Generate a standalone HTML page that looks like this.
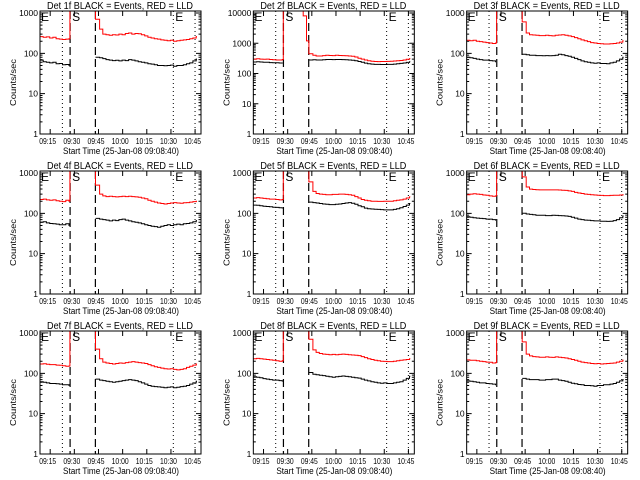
<!DOCTYPE html>
<html><head><meta charset="utf-8"><style>
html,body{margin:0;padding:0;background:#fff;}
svg{display:block;}
text{font-family:"Liberation Sans",sans-serif;fill:#000;}
</style></head><body>
<svg id="chart" width="640" height="480" viewBox="0 0 640 480" xmlns="http://www.w3.org/2000/svg">
<rect x="0" y="0" width="640" height="480" fill="#fff"/>
</svg>
<script>
// time in minutes after 09:08:40
const detectorNames = ["1f","2f","3f","4f","5f","6f","7f","8f","9f"];
const decades = [3,4,3,3,3,3,3,3,3];
const preTimes = [0,2,4,6,8,10,12,14,16,18];
const midTimes = [18.6,21,23,25,27,29,31,33];
const postTimes = [34.5,37,39,41,43,45,47,49,51,53,55,57,59,61,63,65,67,69,71,73,75,77,79,81,83,85,87,89,91,93,95,97];
const xTickLabels = ["09:15","09:30","09:45","10:00","10:15","10:30","10:45"];
const xTickTimes = [6.33,21.33,36.33,51.33,66.33,81.33,96.33];
const dottedTimes = [13.9,82.8,96.3];
const dashedTimes = [18.7,34.4];
const redPre = [
[260,250,255,240,250,230,225,220,225,230],
[300,305,300,295,300,290,285,280,280,290],
[210,205,210,200,195,190,185,180,175,180],
[220,225,215,210,215,205,200,195,210,200],
[240,245,240,235,230,225,225,220,215,220],
[290,300,305,300,295,285,280,270,265,270],
[170,172,168,165,165,160,158,155,150,152],
[230,235,230,225,220,215,210,205,200,205],
[215,210,212,205,200,195,190,188,180,185]];
const redMid = [
[50000,50000,50000,50000,50000,50000,50000,50000],
[30000,30000,30000,30000,30000,30000,8000,1200],
[50000,50000,50000,50000,50000,50000,50000,50000],
[50000,50000,50000,50000,50000,50000,50000,50000],
[50000,50000,50000,50000,50000,50000,50000,50000],
[50000,50000,50000,50000,50000,50000,50000,50000],
[50000,50000,50000,50000,50000,50000,50000,50000],
[50000,50000,50000,50000,50000,50000,50000,50000],
[50000,50000,50000,50000,50000,50000,50000,50000]];
const redPost = [
[700,400,300,290,280,290,285,300,290,310,320,300,310,305,290,270,250,240,230,225,215,210,205,210,200,205,210,215,220,230,240,260],
[450,400,380,380,390,400,395,390,400,395,390,385,380,370,350,320,300,280,265,255,250,248,250,250,252,255,258,262,270,280,295,310],
[600,320,290,285,280,275,275,280,275,270,280,285,290,280,270,260,245,230,215,205,195,185,180,175,172,170,170,172,175,180,190,205],
[500,300,270,260,265,260,255,260,265,260,265,260,255,250,240,230,210,200,190,180,175,170,175,180,185,180,178,182,185,190,195,200],
[600,350,310,300,295,290,290,295,295,300,300,295,290,280,260,240,220,210,205,200,200,198,198,200,200,200,205,210,215,225,240,255],
[800,450,400,390,385,380,380,380,382,380,380,378,375,370,360,350,330,320,310,300,295,290,285,280,278,275,275,278,280,282,285,290],
[400,230,190,180,175,170,175,180,178,185,190,195,190,185,180,175,165,155,145,140,135,130,128,130,125,122,125,130,140,150,160,170],
[700,380,330,310,300,295,290,295,290,295,300,295,290,285,280,275,260,245,230,220,210,205,200,198,195,195,200,205,210,215,220,230],
[600,300,270,260,255,250,250,255,250,248,255,250,245,240,230,220,210,200,190,185,180,175,172,175,170,172,175,178,180,190,200,210]];
const blackPre = [
[68,62,60,58,60,55,56,52,53,50],
[240,245,240,235,235,230,228,225,222,220],
[80,78,75,72,70,68,68,66,65,62],
[60,62,58,56,55,54,52,52,55,50],
[160,158,155,150,148,145,142,140,138,135],
[82,80,78,76,75,74,72,72,70,68],
[62,60,58,56,56,55,54,52,52,50],
[82,80,78,74,72,70,68,68,66,64],
[65,64,62,60,58,58,56,55,54,52]];
const blackPost = [
[80,78,74,70,68,66,67,65,68,66,70,68,65,62,60,58,55,54,52,50,50,49,50,51,48,50,50,52,55,58,65,72],
[280,285,280,280,285,290,290,288,290,290,288,285,280,275,265,250,235,220,210,205,200,200,198,198,200,200,205,210,215,222,232,245],
[95,92,90,90,88,88,87,88,87,88,90,95,92,88,85,80,75,70,65,62,60,58,57,58,56,56,55,58,60,65,72,80],
[75,72,70,68,65,68,66,70,72,68,65,62,60,58,55,52,50,48,47,45,48,50,52,50,52,54,52,55,56,58,62,66],
[190,185,180,175,170,168,165,165,168,170,175,180,185,178,168,155,145,135,130,128,126,125,124,122,122,122,125,130,138,148,160,175],
[100,96,94,92,90,90,90,88,88,90,89,88,87,86,84,80,76,72,70,68,67,66,65,65,64,64,63,64,66,70,78,86],
[72,68,66,64,62,60,62,64,66,68,70,68,66,62,58,54,50,48,47,46,45,44,45,46,44,45,47,48,50,54,58,64],
[105,95,92,90,88,85,82,80,82,84,86,84,82,80,78,76,72,68,65,62,60,58,57,58,56,56,58,60,62,68,75,85],
[75,72,70,70,70,68,68,70,70,72,72,68,66,64,60,57,55,53,52,50,50,49,48,50,50,52,52,54,56,60,65,70]];

const NS = "http://www.w3.org/2000/svg";
const svg = document.getElementById("chart");
const T0 = 0, T1 = 100, PW = 161, PH = 123;
function mk(tag, attrs, parent){
  const e = document.createElementNS(NS, tag);
  for (const k in attrs) e.setAttribute(k, attrs[k]);
  parent.appendChild(e);
  return e;
}
function stepPath(times, vals, xs, ys, tEnd){
  let d = "";
  for (let i=0;i<times.length;i++){
    const x = xs(times[i]), y = ys(vals[i]);
    const xn = xs(i<times.length-1 ? times[i+1] : tEnd);
    d += (i===0 ? "M"+x.toFixed(1)+","+y.toFixed(1) : "V"+y.toFixed(1)) + "H"+xn.toFixed(1);
  }
  return d;
}
for (let p=0;p<9;p++){
  const c = p%3, r = Math.floor(p/3);
  const x0 = 40 + c*213.33, y0 = 11 + r*160;
  const nd = decades[p];
  const logMax = nd + 2/(121/nd);
  const xs = t => x0 + (t - T0)/(T1 - T0)*PW;
  const ys = v => y0 + PH - Math.log10(v)/logMax*PH;
  const g = mk("g", {}, svg);
  
  
  const cp = mk("clipPath", {id:"clip"+p}, g);
  mk("rect", {x:x0, y:y0, width:PW, height:PH}, cp);
  const title = mk("text", {x:x0+7, y:y0-2, "font-size":"10", textLength:"146", lengthAdjust:"spacingAndGlyphs"}, g);
  title.textContent = "Det "+detectorNames[p]+" BLACK = Events, RED = LLD";
  
  
  const yl = mk("text", {x:0, y:0, "text-anchor":"middle", "font-size":"8", textLength:"47", lengthAdjust:"spacingAndGlyphs", transform:"translate("+(x0-24)+","+(y0+PH/2+10)+") rotate(-90)"}, g);
  yl.textContent = "Counts/sec";
  
  
  const xl = mk("text", {x:x0+23, y:y0+PH+20, "font-size":"9", textLength:"116", lengthAdjust:"spacingAndGlyphs"}, g);
  xl.textContent = "Start Time (25-Jan-08 09:08:40)";
  
  
  for (let d=0; d<=nd; d++){
    const v = Math.pow(10,d), y = ys(v);
    const lab = mk("text", {x:x0-2, y:y+3, "text-anchor":"end", "font-size":"8.5"}, g);
    lab.textContent = String(v);
    
    
    const tk = mk("path", {d:"M"+x0+","+y+"h5M"+(x0+PW)+","+y+"h-5", stroke:"#000", "stroke-width":"1"}, g);
    
    
    if (d<nd){
      for (let m=2;m<=9;m++){
        const ym = ys(m*v);
        const mt = mk("path", {d:"M"+x0+","+ym+"h2.5M"+(x0+PW)+","+ym+"h-2.5", stroke:"#000", "stroke-width":"1"}, g);
        
        
      }
    }
  }
  for (let i=0;i<xTickTimes.length;i++){
    const x = xs(xTickTimes[i]);
    const lab = mk("text", {x:x-2.5, y:y0+PH+10, "text-anchor":"middle", "font-size":"8", textLength:"17", lengthAdjust:"spacingAndGlyphs"}, g);
    lab.textContent = xTickLabels[i];
    
    
    const tk = mk("path", {d:"M"+x+","+(y0+PH)+"v-5M"+x+","+y0+"v5", stroke:"#000", "stroke-width":"1"}, g);
    
    
  }
  for (const t of dottedTimes){
    const l = mk("line", {x1:xs(t), x2:xs(t), y1:y0, y2:y0+PH, stroke:"#000", "stroke-width":"1", "stroke-dasharray":"1,3"}, g);
    
    
  }
  for (const t of dashedTimes){
    const l = mk("line", {x1:xs(t), x2:xs(t), y1:y0, y2:y0+PH, stroke:"#000", "stroke-width":"1.2", "stroke-dasharray":"8,4"}, g);
    
    
  }
  const marks = [["E", x0+1], ["S", xs(dashedTimes[0])+2], ["E", xs(dottedTimes[1])+2]];
  for (const [s, x] of marks){
    const t = mk("text", {x:x, y:y0+10, "font-size":"12", "font-weight":"normal"}, g);
    t.textContent = s;
    
    
  }
  const dg = mk("g", {"clip-path":"url(#clip"+p+")"}, g);
  const redD = stepPath(preTimes.concat(midTimes).concat(postTimes), redPre[p].concat(redMid[p]).concat(redPost[p]), xs, ys, 97.5);
  const red = mk("path", {d:redD, fill:"none", stroke:"#ff0000", "stroke-width":"1"}, dg);
  
  
  const bD = stepPath(preTimes, blackPre[p], xs, ys, 18.2) + " " + stepPath(postTimes, blackPost[p], xs, ys, 97.5);
  const blk = mk("path", {d:bD, fill:"none", stroke:"#000", "stroke-width":"1"}, dg);
  
  
  const fr = mk("rect", {x:x0, y:y0, width:PW, height:PH, fill:"none", stroke:"#000", "stroke-width":"1"}, g);
  
  
}
</script>
</body></html>
